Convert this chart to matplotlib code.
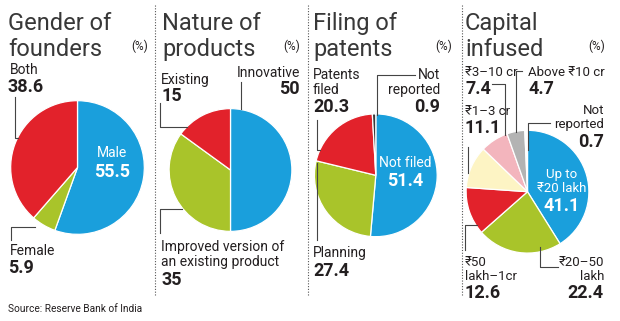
import matplotlib
matplotlib.use("Agg")
import matplotlib.pyplot as plt
from matplotlib.lines import Line2D

# data
gender_labels = ["Male", "Female", "Both"]
gender_vals = [55.5, 5.9, 38.6]

product_labels = ["Innovative", "Improved version of\nan existing product", "Existing"]
product_vals = [50, 35, 15]

patent_labels = ["Not filed", "Planning", "Patents\nfiled", "Not\nreported"]
patent_vals = [51.4, 27.4, 20.3, 0.9]

capital_labels = ["Up to\n₹20 lakh", "₹20–50\nlakh", "₹50\nlakh–1cr", "₹1–3 cr",
                  "₹3–10 cr", "Above ₹10 cr", "Not\nreported"]
capital_vals = [41.1, 22.4, 12.6, 11.1, 7.4, 4.7, 0.7]

BLUE = "#1a9fdc"
RED = "#e2222b"
GREEN = "#a9c42a"
YELLOW = "#fdf4c4"
PINK = "#f3b5bd"
GREY = "#b3b3b3"
DARK = "#231f20"

FONT = ["Roboto", "DejaVu Sans"]
TS, LS, NS = 17, 10, 13
W, H = 620, 321

fig = plt.figure(figsize=(6.2, 3.21), dpi=100)
fig.patch.set_facecolor("white")


def fx(x):
    return x / W


def fy(y):
    return 1 - y / H


def txt(x, y, s, ha="left", bold=False, size=None, color=DARK):
    fig.text(fx(x), fy(y), s, ha=ha, va="baseline", fontsize=size or LS,
             fontweight="bold" if bold else "normal", color=color,
             family=FONT, linespacing=1.1)


def num(x, y, v, ha="left", color=DARK):
    txt(x, y, f"{v}", ha=ha, bold=True, size=NS, color=color)


def leader(pts):
    fig.add_artist(Line2D([fx(p[0]) for p in pts], [fy(p[1]) for p in pts],
                          color="#444444", lw=0.8))


def pie(cx, cy, r, vals, colors):
    ax = fig.add_axes([fx(cx - r), fy(cy + r), 2 * r / W, 2 * r / H])
    ax.pie(vals, colors=colors, startangle=90, counterclock=False,
           wedgeprops=dict(edgecolor="white", linewidth=0.9))
    ax.set_xlim(-1.01, 1.01)
    ax.set_ylim(-1.01, 1.01)
    ax.axis("off")
    return ax


def title(x, line1, line2, pct_x):
    txt(x, 30, line1, size=TS, color="#383838")
    txt(x, 56, line2, size=TS, color="#383838")
    txt(pct_x, 50, "(%)", ha="right", size=LS - 1.5)


# separators
for sx in [155, 308, 462]:
    fig.add_artist(Line2D([fx(sx), fx(sx)], [fy(5), fy(295)], color="#555555",
                          lw=0.8, linestyle=(0, (1, 1.5))))

# ---- panel 1: gender
title(8, "Gender of", "founders", 148)
pie(77.5, 167.5, 67.5, gender_vals, [BLUE, GREEN, RED])
txt(10, 74, gender_labels[2])
num(8, 92, gender_vals[2])
leader([(15, 97), (15, 138), (18, 138)])
txt(112, 157, gender_labels[0], ha="center", color="white")
num(112, 177, gender_vals[0], ha="center", color="white")
leader([(35, 227), (11, 227), (11, 240)])
txt(10, 255, gender_labels[1])
num(8, 273, gender_vals[1])

# ---- panel 2: products
title(162, "Nature of", "products", 300)
pie(230.5, 170, 62, product_vals, [BLUE, GREEN, RED])
txt(300, 77, product_labels[0], ha="right")
num(300, 94, product_vals[0], ha="right")
leader([(241, 82), (241, 109)])
txt(161, 84, product_labels[2])
num(161, 101, product_vals[2])
leader([(160, 103), (160, 127), (187, 127)])
leader([(182, 209), (160, 209), (160, 233)])
txt(161, 266, product_labels[1])
num(161, 285, product_vals[1])

# ---- panel 3: patents
title(313, "Filing of", "patents", 452)
pie(375.8, 175.3, 62, patent_vals, [BLUE, GREEN, RED, "#3a3a3a"])
txt(313, 94, patent_labels[2])
num(313, 112, patent_vals[2])
leader([(317, 120), (317, 150), (320, 150)])
txt(440, 94, patent_labels[3], ha="right")
num(440, 112, patent_vals[3], ha="right")
leader([(415, 75), (377, 75), (377, 115)])
txt(405, 167, patent_labels[0], ha="center", color="white")
num(405, 186, patent_vals[0], ha="center", color="white")
leader([(317, 163), (317, 240)])
txt(313, 257, patent_labels[1])
num(313, 276, patent_vals[1])

# ---- panel 4: capital
CS = 9.5
title(465, "Capital", "infused", 605)
pie(527.5, 191.7, 62, capital_vals, [BLUE, GREEN, RED, YELLOW, PINK, GREY, "white"])
txt(562, 192, capital_labels[0], ha="center", color="white", size=CS)
num(562, 211, capital_vals[0], ha="center", color="white")
txt(604, 280, capital_labels[1], ha="right", size=CS)
num(604, 298, capital_vals[1], ha="right")
leader([(540, 247), (540, 267), (558, 267)])
txt(465, 280, capital_labels[2], size=CS)
num(465, 298, capital_vals[2])
leader([(477, 225), (465, 225), (465, 250)])
txt(465, 115, capital_labels[3], size=CS)
num(465, 133, capital_vals[3])
leader([(468, 147), (468, 173)])
txt(465, 76, capital_labels[4], size=CS)
num(465, 94, capital_vals[4])
leader([(492, 84), (505, 84), (505, 135)])
txt(528, 76, capital_labels[5], size=CS)
num(528, 94, capital_vals[5])
leader([(522, 71), (516, 71), (516, 132)])
txt(604, 128, capital_labels[6], ha="right", size=CS)
num(604, 147, capital_vals[6], ha="right")
leader([(550, 123), (528, 123), (528, 150)])

txt(8, 312, "Source: Reserve Bank of India", size=7.3)

fig.savefig("out.png", dpi=100)
